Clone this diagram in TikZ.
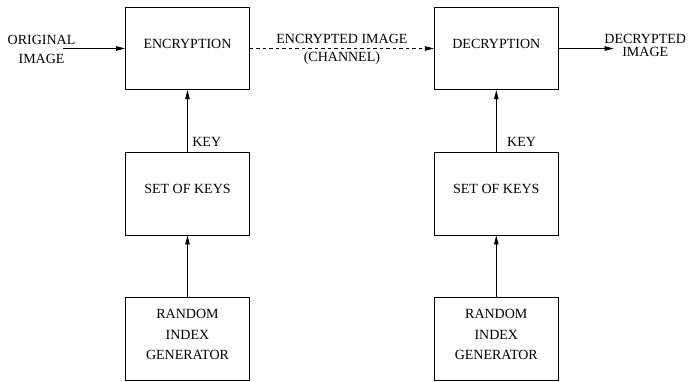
\documentclass[tikz,border=0pt]{standalone}
\usepackage{fontspec}
\setmainfont{Liberation Serif}
\usetikzlibrary{arrows.meta, positioning}
\tikzset{
    block/.style={
        rectangle,
        draw=black,
        line width=0.8pt,
        minimum width=124pt,
        minimum height=82.5pt,
        align=center,
        inner sep=0pt,
        text depth=9pt,
        font=\fontsize{14}{20.5}\selectfont
    },
    connection/.style={
        draw=black,
        line width=0.7pt,
        -{Triangle[length=9pt,width=4.5pt]}
    },
    channel/.style={
        connection,
        dash pattern=on 3.5pt off 3pt
    },
    note/.style={
        align=center,
        inner sep=0pt,
        font=\fontsize{14}{19}\selectfont
    }
}

\begin{document}
\begin{tikzpicture}[x=1pt, y=1pt, node distance=62pt]
\useasboundingbox (0,0) rectangle (688,381);

% Blocks
\node[block] (enc) at (187.5,332.5) {ENCRYPTION};
\node[block, right=184pt of enc] (dec) {DECRYPTION};
\node[block, below=of enc] (keysenc) {SET OF KEYS};
\node[block, below=of dec] (keysdec) {SET OF KEYS};
\node[block, below=of keysenc] (randenc) {RANDOM\\INDEX\\GENERATOR};
\node[block, below=of keysdec] (randdec) {RANDOM\\INDEX\\GENERATOR};

% Image in and out
\coordinate[left=62pt of enc.west] (imgin);
\node[note, left=49.5pt of enc.west, yshift=-1pt] (imgtxt) {ORIGINAL\\IMAGE};
\coordinate[right=55pt of dec.east] (imgout);
\node[note, right=45.5pt of dec.east, yshift=3pt, font=\fontsize{14}{13}\selectfont] (outtxt) {DECRYPTED\\IMAGE};

% Connections
\draw[connection] (imgin) -- (enc);
\draw[channel] (enc) -- node[note, yshift=-1pt, font=\fontsize{14}{18}\selectfont] {ENCRYPTED IMAGE\\(CHANNEL)} (dec);
\draw[connection] (dec) -- (imgout);
\draw[connection] (keysenc) -- node[note, pos=0, anchor=south west, xshift=4.5pt, yshift=5pt] {KEY} (enc);
\draw[connection] (keysdec) -- node[note, pos=0, anchor=south west, xshift=10.5pt, yshift=5pt] {KEY} (dec);
\draw[connection] (randenc) -- (keysenc);
\draw[connection] (randdec) -- (keysdec);

\end{tikzpicture}
\end{document}
